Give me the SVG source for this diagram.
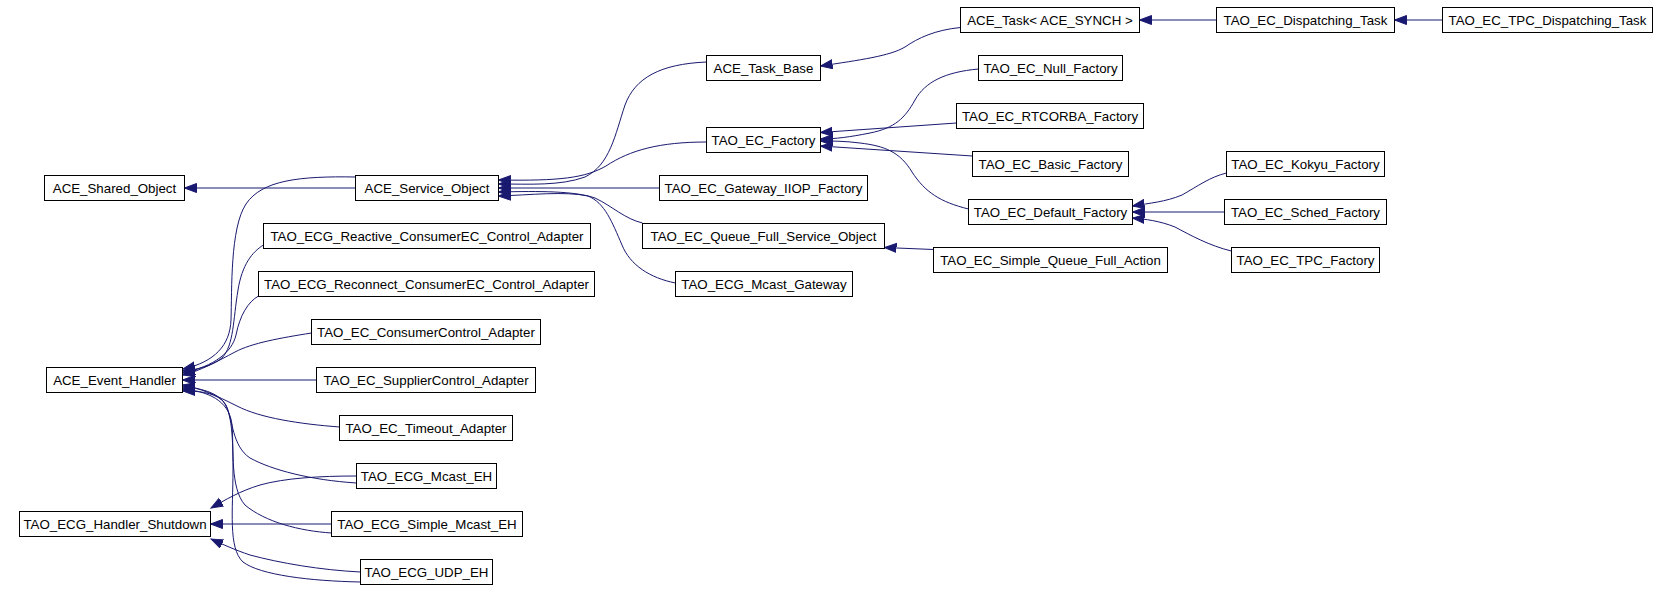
<svg xmlns="http://www.w3.org/2000/svg" width="1670" height="592" viewBox="0 0 1670 592">
<style>
.n rect{fill:#fff;stroke:#000;stroke-width:1}
.n text{font-family:"Liberation Sans",Arial,sans-serif;font-size:13.3px;fill:#000;text-anchor:middle}
.e path{fill:none;stroke:#191970;stroke-width:1;marker-end:url(#a)}
</style>
<defs>
<marker id="a" markerUnits="userSpaceOnUse" markerWidth="14" markerHeight="12" refX="12" refY="5" orient="auto">
<path d="M12,5 L0,0.5 L0,9.5 z" fill="#191970" stroke="#191970" stroke-width="1"/>
</marker>
</defs>
<rect width="1670" height="592" fill="#fff"/>
<g id="edges" class="e">
<path d="M355.5,188 L184.5,188"/>
<path d="M355.5,177 C300,176 262,180 246,204 C230,228 232,290 231,320 C230,345 215,362 183,369"/>
<path d="M263.5,245 C252,252 242,265 238,290 C233,320 234,345 222,358 C212,366 196,370 183,371"/>
<path d="M258.5,296 C248,302 240,315 236,335 C232,352 215,366 183,373"/>
<path d="M311.5,333 C280,338 252,343 235,352 C218,361 200,371 183,375"/>
<path d="M316.5,380 L182.5,380"/>
<path d="M339.5,427 C300,424 260,418 237,406 C215,395 200,388 183,385"/>
<path d="M356.5,483 C310,480 272,470 250,458 C232,446 233,420 226,405 C218,392 200,388 183,387"/>
<path d="M331.5,533 C300,531 265,522 245,505 C230,488 234,450 232,425 C230,405 215,392 183,389"/>
<path d="M360.5,582 C310,581 260,575 243,562 C228,548 233,510 233,470 C233,430 231,410 222,400 C212,392 198,391 183,391"/>
<path d="M356.5,476 C320,476 285,478 260,485 C240,491 225,500 211,508"/>
<path d="M331.5,524 L210.5,524"/>
<path d="M360.5,572 C320,570 280,563 250,555 C235,550 222,544 211,539"/>
<path d="M706.5,62 C660,64 635,78 625,105 C615,135 610,165 585,177 C560,186 530,184 498.5,184"/>
<path d="M706.5,142 C660,142 630,150 606,166 C585,178 560,181 498.5,180"/>
<path d="M659.5,188 L498.5,188"/>
<path d="M642.5,223 C625,219 612,206 595,198 C575,191 540,191 498.5,192"/>
<path d="M675.5,283 C650,278 630,265 622,245 C612,222 605,203 588,196 C565,191 530,195 498.5,196"/>
<path d="M978.5,69 C945,72 925,82 915,100 C905,118 895,128 870,133 C850,137 835,139 820.5,139"/>
<path d="M956.5,123 L820.5,132.5"/>
<path d="M972.5,156 L820.5,146"/>
<path d="M968.5,209 C940,202 925,192 912,172 C900,152 885,146 860,143 C845,141 832,141 820.5,141"/>
<path d="M960.5,27.5 C935,30 918,38 905,47 C890,56 860,60 820.5,66"/>
<path d="M1216.5,20 L1139.5,20"/>
<path d="M1442.5,20 L1394.5,20"/>
<path d="M1226.5,173 C1210,177 1198,186 1182,195 C1165,202 1150,203 1132.5,206"/>
<path d="M1224.5,212 L1132.5,212"/>
<path d="M1231.5,251 C1210,246 1190,235 1175,227 C1160,221 1145,219 1132.5,218"/>
<path d="M933.5,249.5 L884.5,247.5"/>
</g>
<g id="ACE_Shared_Object" class="n"><rect x="44.5" y="175.5" width="140" height="25"/><text x="114.5" y="192.7">ACE_Shared_Object</text></g>
<g id="ACE_Event_Handler" class="n"><rect x="46.5" y="367.5" width="136" height="25"/><text x="114.5" y="384.7">ACE_Event_Handler</text></g>
<g id="TAO_ECG_Handler_Shutdown" class="n"><rect x="19.5" y="511.5" width="191" height="25"/><text x="115" y="528.7">TAO_ECG_Handler_Shutdown</text></g>
<g id="ACE_Service_Object" class="n"><rect x="355.5" y="175.5" width="143" height="25"/><text x="427" y="192.7">ACE_Service_Object</text></g>
<g id="TAO_ECG_Reactive_ConsumerEC_Control_Adapter" class="n"><rect x="263.5" y="223.5" width="327" height="25"/><text x="427" y="240.7">TAO_ECG_Reactive_ConsumerEC_Control_Adapter</text></g>
<g id="TAO_ECG_Reconnect_ConsumerEC_Control_Adapter" class="n"><rect x="258.5" y="271.5" width="336" height="25"/><text x="426.5" y="288.7">TAO_ECG_Reconnect_ConsumerEC_Control_Adapter</text></g>
<g id="TAO_EC_ConsumerControl_Adapter" class="n"><rect x="311.5" y="319.5" width="229" height="25"/><text x="426" y="336.7">TAO_EC_ConsumerControl_Adapter</text></g>
<g id="TAO_EC_SupplierControl_Adapter" class="n"><rect x="316.5" y="367.5" width="219" height="25"/><text x="426" y="384.7">TAO_EC_SupplierControl_Adapter</text></g>
<g id="TAO_EC_Timeout_Adapter" class="n"><rect x="339.5" y="415.5" width="173" height="25"/><text x="426" y="432.7">TAO_EC_Timeout_Adapter</text></g>
<g id="TAO_ECG_Mcast_EH" class="n"><rect x="356.5" y="463.5" width="140" height="25"/><text x="426.5" y="480.7">TAO_ECG_Mcast_EH</text></g>
<g id="TAO_ECG_Simple_Mcast_EH" class="n"><rect x="331.5" y="511.5" width="191" height="25"/><text x="427" y="528.7">TAO_ECG_Simple_Mcast_EH</text></g>
<g id="TAO_ECG_UDP_EH" class="n"><rect x="360.5" y="559.5" width="132" height="25"/><text x="426.5" y="576.7">TAO_ECG_UDP_EH</text></g>
<g id="ACE_Task_Base" class="n"><rect x="706.5" y="55.5" width="114" height="25"/><text x="763.5" y="72.7">ACE_Task_Base</text></g>
<g id="TAO_EC_Factory" class="n"><rect x="706.5" y="127.5" width="114" height="25"/><text x="763.5" y="144.7">TAO_EC_Factory</text></g>
<g id="TAO_EC_Gateway_IIOP_Factory" class="n"><rect x="659.5" y="175.5" width="208" height="25"/><text x="763.5" y="192.7">TAO_EC_Gateway_IIOP_Factory</text></g>
<g id="TAO_EC_Queue_Full_Service_Object" class="n"><rect x="642.5" y="223.5" width="242" height="25"/><text x="763.5" y="240.7">TAO_EC_Queue_Full_Service_Object</text></g>
<g id="TAO_ECG_Mcast_Gateway" class="n"><rect x="675.5" y="271.5" width="177" height="25"/><text x="764" y="288.7">TAO_ECG_Mcast_Gateway</text></g>
<g id="ACE_Task_ACE_SYNCH" class="n"><rect x="960.5" y="7.5" width="179" height="25"/><text x="1050" y="24.7">ACE_Task&lt; ACE_SYNCH &gt;</text></g>
<g id="TAO_EC_Null_Factory" class="n"><rect x="978.5" y="55.5" width="144" height="25"/><text x="1050.5" y="72.7">TAO_EC_Null_Factory</text></g>
<g id="TAO_EC_RTCORBA_Factory" class="n"><rect x="956.5" y="103.5" width="187" height="25"/><text x="1050" y="120.7">TAO_EC_RTCORBA_Factory</text></g>
<g id="TAO_EC_Basic_Factory" class="n"><rect x="972.5" y="151.5" width="156" height="25"/><text x="1050.5" y="168.7">TAO_EC_Basic_Factory</text></g>
<g id="TAO_EC_Default_Factory" class="n"><rect x="968.5" y="199.5" width="164" height="25"/><text x="1050.5" y="216.7">TAO_EC_Default_Factory</text></g>
<g id="TAO_EC_Simple_Queue_Full_Action" class="n"><rect x="933.5" y="247.5" width="234" height="25"/><text x="1050.5" y="264.7">TAO_EC_Simple_Queue_Full_Action</text></g>
<g id="TAO_EC_Dispatching_Task" class="n"><rect x="1216.5" y="7.5" width="178" height="25"/><text x="1305.5" y="24.7">TAO_EC_Dispatching_Task</text></g>
<g id="TAO_EC_Kokyu_Factory" class="n"><rect x="1226.5" y="151.5" width="158" height="25"/><text x="1305.5" y="168.7">TAO_EC_Kokyu_Factory</text></g>
<g id="TAO_EC_Sched_Factory" class="n"><rect x="1224.5" y="199.5" width="162" height="25"/><text x="1305.5" y="216.7">TAO_EC_Sched_Factory</text></g>
<g id="TAO_EC_TPC_Factory" class="n"><rect x="1231.5" y="247.5" width="148" height="25"/><text x="1305.5" y="264.7">TAO_EC_TPC_Factory</text></g>
<g id="TAO_EC_TPC_Dispatching_Task" class="n"><rect x="1442.5" y="7.5" width="210" height="25"/><text x="1547.5" y="24.7">TAO_EC_TPC_Dispatching_Task</text></g>
</svg>
